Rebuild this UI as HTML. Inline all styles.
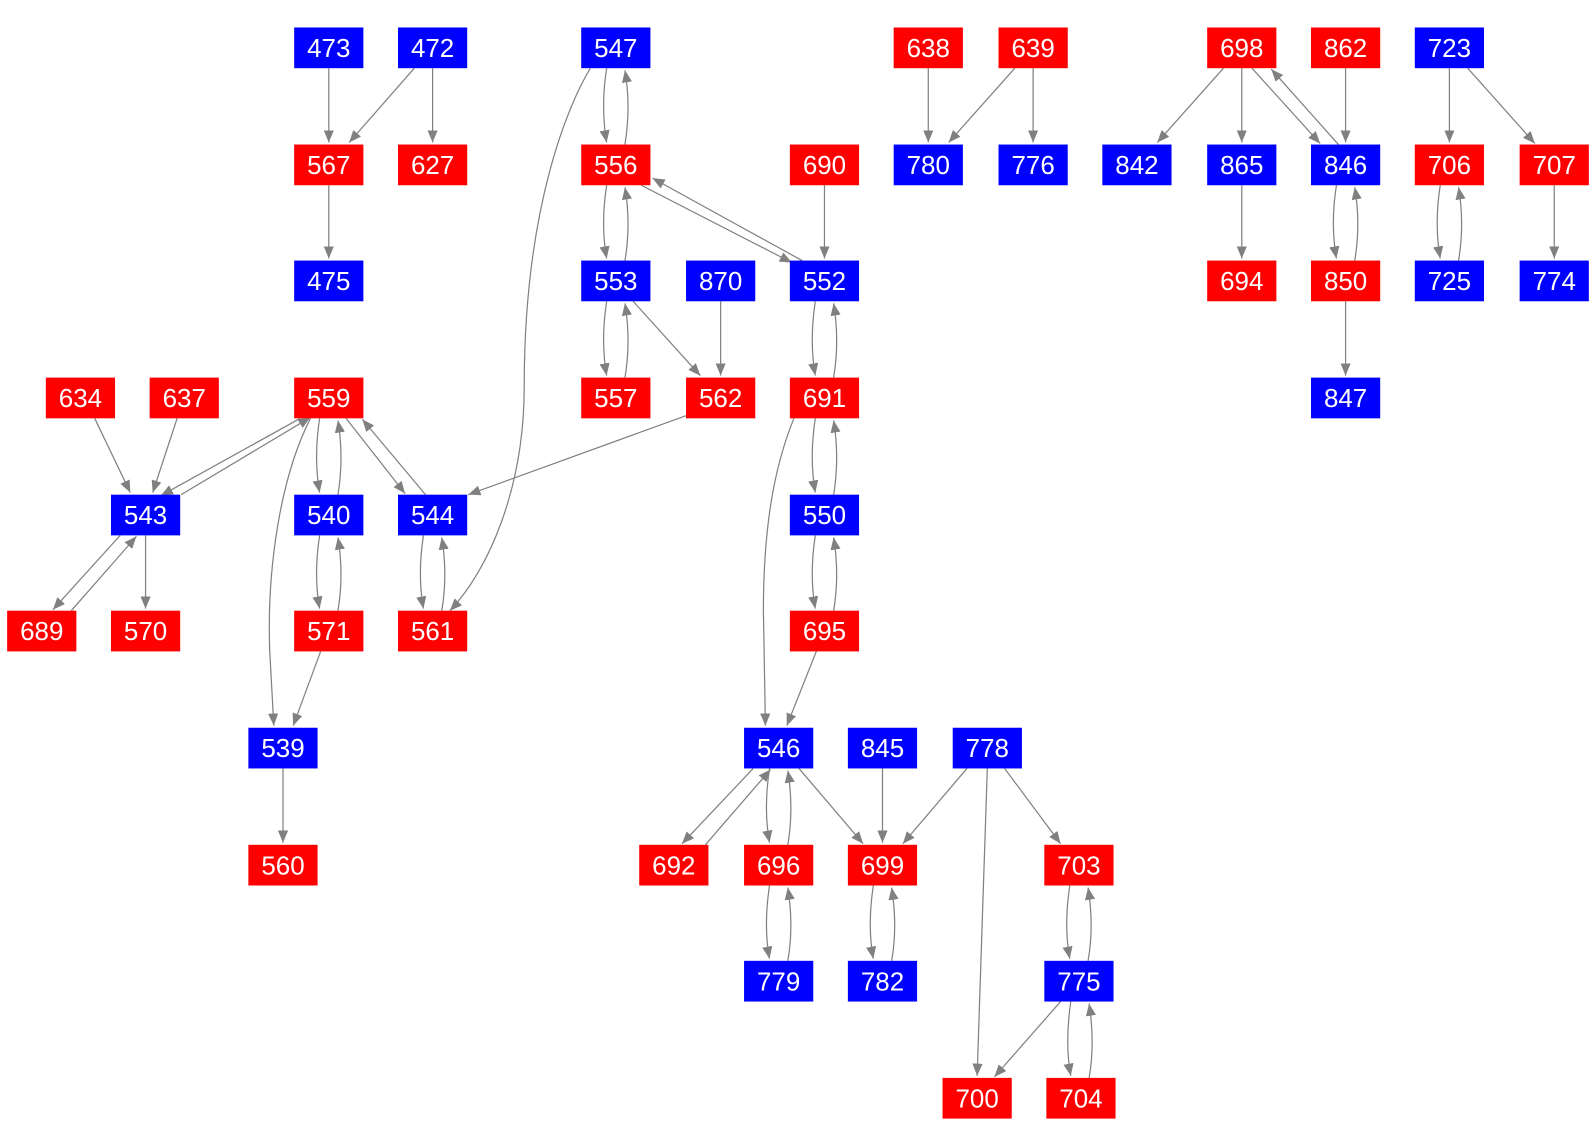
<!DOCTYPE html>
<html><head><meta charset="utf-8"><style>
html,body{margin:0;padding:0;background:#fff;}
svg{display:block;}
text{font-family:"Liberation Sans",Arial,sans-serif;font-size:25.5px;fill:#fff;text-anchor:middle;}
.e{fill:none;stroke:#808080;stroke-width:1.2;marker-end:url(#a);}
.b{fill:#0000ff;} .r{fill:#ff0000;}
</style></head><body>
<svg width="1596" height="1142" viewBox="0 0 1568 1122" xmlns="http://www.w3.org/2000/svg">
<defs><marker id="a" markerUnits="userSpaceOnUse" markerWidth="13" markerHeight="10" refX="12" refY="5" orient="auto"><path d="M0,0 L12,5 L0,10 z" fill="#808080"/></marker></defs>
<g>
<path class="e" d="M323 67 L323 140"/>
<path class="e" d="M407 67 L343 140"/>
<path class="e" d="M425 67 L425 140"/>
<path class="e" d="M323 182 L323 254"/>
<path class="e" d="M596 67 Q590 105 596 140"/>
<path class="e" d="M614 142 Q620 105 614 69"/>
<path class="e" d="M580 67 C560 100 515 200 515 380 C515 480 480 560 442 600"/>
<path class="e" d="M596 182 Q590 220 596 254"/>
<path class="e" d="M614 256 Q620 220 614 184"/>
<path class="e" d="M630 182 L778 258"/>
<path class="e" d="M788 256 L641 175"/>
<path class="e" d="M810 182 L810 254"/>
<path class="e" d="M596 296 Q590 335 596 369"/>
<path class="e" d="M614 371 Q620 335 614 298"/>
<path class="e" d="M622 296 L688 369"/>
<path class="e" d="M708 296 L708 369"/>
<path class="e" d="M675 408 L460 486"/>
<path class="e" d="M801 296 Q795 335 801 369"/>
<path class="e" d="M819 371 Q825 335 819 298"/>
<path class="e" d="M801 411 Q795 450 801 484"/>
<path class="e" d="M819 486 Q825 450 819 413"/>
<path class="e" d="M780 411 C760 460 750 520 750 600 L752 713"/>
<path class="e" d="M801 526 Q795 565 801 598"/>
<path class="e" d="M819 600 Q825 565 819 528"/>
<path class="e" d="M802 640 L773 713"/>
<path class="e" d="M93 411 L128 484"/>
<path class="e" d="M174 411 L150 484"/>
<path class="e" d="M295 411 L158 487"/>
<path class="e" d="M178 486 L305 410"/>
<path class="e" d="M314 411 Q308 450 314 484"/>
<path class="e" d="M332 486 Q338 450 332 413"/>
<path class="e" d="M340 411 L398 485"/>
<path class="e" d="M418 486 L356 412"/>
<path class="e" d="M305 411 C275 470 262 560 265 640 L269 713"/>
<path class="e" d="M118 526 L52 599"/>
<path class="e" d="M70 600 L134 527"/>
<path class="e" d="M143 526 L143 598"/>
<path class="e" d="M314 526 Q308 565 314 598"/>
<path class="e" d="M332 600 Q338 565 332 528"/>
<path class="e" d="M315 640 L288 713"/>
<path class="e" d="M416 526 Q410 565 416 598"/>
<path class="e" d="M434 600 Q440 565 434 528"/>
<path class="e" d="M278 755 L278 828"/>
<path class="e" d="M740 755 L670 829"/>
<path class="e" d="M693 830 L757 756"/>
<path class="e" d="M756 755 Q750 795 756 828"/>
<path class="e" d="M774 830 Q780 795 774 757"/>
<path class="e" d="M785 755 L848 829"/>
<path class="e" d="M867 755 L867 828"/>
<path class="e" d="M950 755 L887 829"/>
<path class="e" d="M970 755 L960 1057"/>
<path class="e" d="M987 755 L1042 829"/>
<path class="e" d="M756 870 Q750 910 756 942"/>
<path class="e" d="M774 944 Q780 910 774 872"/>
<path class="e" d="M858 870 Q852 910 858 942"/>
<path class="e" d="M876 944 Q882 910 876 872"/>
<path class="e" d="M1051 870 Q1045 910 1051 942"/>
<path class="e" d="M1069 944 Q1075 910 1069 872"/>
<path class="e" d="M1042 984 L977 1058"/>
<path class="e" d="M1052 984 Q1046 1025 1052 1057"/>
<path class="e" d="M1070 1059 Q1076 1025 1070 986"/>
<path class="e" d="M912 67 L912 140"/>
<path class="e" d="M997 67 L932 140"/>
<path class="e" d="M1015 67 L1015 140"/>
<path class="e" d="M1202 67 L1137 140"/>
<path class="e" d="M1220 67 L1220 140"/>
<path class="e" d="M1230 67 L1297 141"/>
<path class="e" d="M1315 142 L1249 68"/>
<path class="e" d="M1322 67 L1322 140"/>
<path class="e" d="M1220 182 L1220 254"/>
<path class="e" d="M1313 182 Q1307 220 1313 254"/>
<path class="e" d="M1331 256 Q1337 220 1331 184"/>
<path class="e" d="M1322 296 L1322 369"/>
<path class="e" d="M1424 67 L1424 140"/>
<path class="e" d="M1442 67 L1508 141"/>
<path class="e" d="M1415 182 Q1409 220 1415 254"/>
<path class="e" d="M1433 256 Q1439 220 1433 184"/>
<path class="e" d="M1527 182 L1527 254"/>
</g>
<g>
<rect class="b" x="289" y="27" width="68" height="40"/><text x="323" y="56">473</text>
<rect class="b" x="391" y="27" width="68" height="40"/><text x="425" y="56">472</text>
<rect class="b" x="571" y="27" width="68" height="40"/><text x="605" y="56">547</text>
<rect class="r" x="878" y="27" width="68" height="40"/><text x="912" y="56">638</text>
<rect class="r" x="981" y="27" width="68" height="40"/><text x="1015" y="56">639</text>
<rect class="r" x="1186" y="27" width="68" height="40"/><text x="1220" y="56">698</text>
<rect class="r" x="1288" y="27" width="68" height="40"/><text x="1322" y="56">862</text>
<rect class="b" x="1390" y="27" width="68" height="40"/><text x="1424" y="56">723</text>

<rect class="r" x="289" y="142" width="68" height="40"/><text x="323" y="171">567</text>
<rect class="r" x="391" y="142" width="68" height="40"/><text x="425" y="171">627</text>
<rect class="r" x="571" y="142" width="68" height="40"/><text x="605" y="171">556</text>
<rect class="r" x="776" y="142" width="68" height="40"/><text x="810" y="171">690</text>
<rect class="b" x="878" y="142" width="68" height="40"/><text x="912" y="171">780</text>
<rect class="b" x="981" y="142" width="68" height="40"/><text x="1015" y="171">776</text>
<rect class="b" x="1083" y="142" width="68" height="40"/><text x="1117" y="171">842</text>
<rect class="b" x="1186" y="142" width="68" height="40"/><text x="1220" y="171">865</text>
<rect class="b" x="1288" y="142" width="68" height="40"/><text x="1322" y="171">846</text>
<rect class="r" x="1390" y="142" width="68" height="40"/><text x="1424" y="171">706</text>
<rect class="r" x="1493" y="142" width="68" height="40"/><text x="1527" y="171">707</text>

<rect class="b" x="289" y="256" width="68" height="40"/><text x="323" y="285">475</text>
<rect class="b" x="571" y="256" width="68" height="40"/><text x="605" y="285">553</text>
<rect class="b" x="674" y="256" width="68" height="40"/><text x="708" y="285">870</text>
<rect class="b" x="776" y="256" width="68" height="40"/><text x="810" y="285">552</text>
<rect class="r" x="1186" y="256" width="68" height="40"/><text x="1220" y="285">694</text>
<rect class="r" x="1288" y="256" width="68" height="40"/><text x="1322" y="285">850</text>
<rect class="b" x="1390" y="256" width="68" height="40"/><text x="1424" y="285">725</text>
<rect class="b" x="1493" y="256" width="68" height="40"/><text x="1527" y="285">774</text>

<rect class="r" x="45" y="371" width="68" height="40"/><text x="79" y="400">634</text>
<rect class="r" x="147" y="371" width="68" height="40"/><text x="181" y="400">637</text>
<rect class="r" x="289" y="371" width="68" height="40"/><text x="323" y="400">559</text>
<rect class="r" x="571" y="371" width="68" height="40"/><text x="605" y="400">557</text>
<rect class="r" x="674" y="371" width="68" height="40"/><text x="708" y="400">562</text>
<rect class="r" x="776" y="371" width="68" height="40"/><text x="810" y="400">691</text>
<rect class="b" x="1288" y="371" width="68" height="40"/><text x="1322" y="400">847</text>

<rect class="b" x="109" y="486" width="68" height="40"/><text x="143" y="515">543</text>
<rect class="b" x="289" y="486" width="68" height="40"/><text x="323" y="515">540</text>
<rect class="b" x="391" y="486" width="68" height="40"/><text x="425" y="515">544</text>
<rect class="b" x="776" y="486" width="68" height="40"/><text x="810" y="515">550</text>

<rect class="r" x="7" y="600" width="68" height="40"/><text x="41" y="629">689</text>
<rect class="r" x="109" y="600" width="68" height="40"/><text x="143" y="629">570</text>
<rect class="r" x="289" y="600" width="68" height="40"/><text x="323" y="629">571</text>
<rect class="r" x="391" y="600" width="68" height="40"/><text x="425" y="629">561</text>
<rect class="r" x="776" y="600" width="68" height="40"/><text x="810" y="629">695</text>

<rect class="b" x="244" y="715" width="68" height="40"/><text x="278" y="744">539</text>
<rect class="b" x="731" y="715" width="68" height="40"/><text x="765" y="744">546</text>
<rect class="b" x="833" y="715" width="68" height="40"/><text x="867" y="744">845</text>
<rect class="b" x="936" y="715" width="68" height="40"/><text x="970" y="744">778</text>

<rect class="r" x="244" y="830" width="68" height="40"/><text x="278" y="859">560</text>
<rect class="r" x="628" y="830" width="68" height="40"/><text x="662" y="859">692</text>
<rect class="r" x="731" y="830" width="68" height="40"/><text x="765" y="859">696</text>
<rect class="r" x="833" y="830" width="68" height="40"/><text x="867" y="859">699</text>
<rect class="r" x="1026" y="830" width="68" height="40"/><text x="1060" y="859">703</text>

<rect class="b" x="731" y="944" width="68" height="40"/><text x="765" y="973">779</text>
<rect class="b" x="833" y="944" width="68" height="40"/><text x="867" y="973">782</text>
<rect class="b" x="1026" y="944" width="68" height="40"/><text x="1060" y="973">775</text>

<rect class="r" x="926" y="1059" width="68" height="40"/><text x="960" y="1088">700</text>
<rect class="r" x="1028" y="1059" width="68" height="40"/><text x="1062" y="1088">704</text>
</g>
</svg>
</body></html>
